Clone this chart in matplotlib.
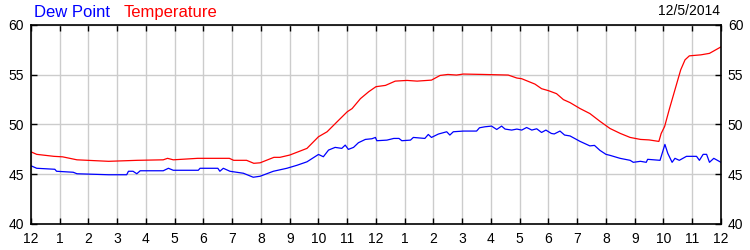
import numpy as np
import matplotlib.pyplot as plt

# hours since midnight, 12/5/2014
temp_hours = [0, 0.2, 0.8, 1.1, 1.6, 2.7, 3.7, 4.6, 4.75, 4.95, 5.8, 6.9, 7.05, 7.5,
              7.75, 7.97, 8.45, 8.66, 9.0, 9.36, 9.6, 10.0, 10.3, 10.65, 11.0, 11.17,
              11.46, 11.75, 12.0, 12.33, 12.67, 13.08, 13.43, 13.93, 14.23, 14.5,
              14.8, 15.04, 15.73, 16.6, 16.9, 17.07, 17.24, 17.53, 17.76, 18.0, 18.28,
              18.52, 18.75, 19.1, 19.44, 19.8, 20.14, 20.5, 20.84, 21.2, 21.5, 21.84,
              21.92, 22.04, 22.2, 22.4, 22.6, 22.75, 22.9, 23.3, 23.6, 24.0]
temperature = [47.25, 47.0, 46.8, 46.75, 46.45, 46.3, 46.4, 46.45, 46.6, 46.45, 46.6,
               46.6, 46.4, 46.4, 46.1, 46.15, 46.7, 46.7, 46.93, 47.33, 47.6, 48.77,
               49.27, 50.28, 51.28, 51.6, 52.6, 53.3, 53.8, 53.93, 54.36, 54.43, 54.36,
               54.46, 54.93, 55.03, 54.97, 55.07, 55.03, 54.97, 54.67, 54.6, 54.4,
               54.06, 53.6, 53.4, 53.1, 52.5, 52.2, 51.6, 51.1, 50.3, 49.6, 49.1,
               48.7, 48.5, 48.45, 48.3, 49.1, 49.8, 51.5, 53.5, 55.5, 56.5, 56.9, 57.0,
               57.15, 57.8]

dew_hours = [0, 0.2, 0.83, 0.89, 1.47, 1.6, 2.7, 3.33, 3.39, 3.55, 3.68, 3.8, 4.6,
             4.78, 4.95, 5.82, 5.88, 6.5, 6.57, 6.69, 6.92, 7.39, 7.73, 7.97, 8.43,
             8.9, 9.25, 9.6, 10.0, 10.17, 10.35, 10.58, 10.81, 10.93, 11.04, 11.22,
             11.39, 11.63, 11.86, 11.98, 12.03, 12.38, 12.62, 12.8, 12.9, 13.2, 13.3,
             13.7, 13.82, 13.93, 14.17, 14.46, 14.57, 14.69, 15.04, 15.5, 15.6,
             15.79, 16.02, 16.2, 16.37, 16.49, 16.72, 16.9, 17.07, 17.24, 17.42,
             17.59, 17.76, 17.91, 18.1, 18.2, 18.4, 18.56, 18.75, 19.1, 19.44, 19.6,
             19.79, 20.0, 20.14, 20.49, 20.84, 20.95, 21.2, 21.4, 21.45, 21.88,
             22.05, 22.15, 22.3, 22.4, 22.55, 22.8, 23.15, 23.25, 23.38, 23.5, 23.6,
             23.75, 24.0]
dew_point = [45.85, 45.6, 45.5, 45.3, 45.2, 45.05, 44.95, 44.95, 45.3, 45.3, 45.05,
             45.35, 45.35, 45.6, 45.4, 45.4, 45.6, 45.6, 45.3, 45.6, 45.3, 45.1, 44.7,
             44.8, 45.3, 45.6, 45.9, 46.25, 46.99, 46.76, 47.43, 47.7, 47.6, 47.93,
             47.5, 47.7, 48.17, 48.5, 48.57, 48.7, 48.37, 48.43, 48.6, 48.6, 48.37,
             48.43, 48.7, 48.6, 49.0, 48.7, 49.04, 49.27, 48.94, 49.27, 49.34, 49.34,
             49.67, 49.77, 49.84, 49.5, 49.84, 49.54, 49.44, 49.54, 49.44, 49.7,
             49.44, 49.57, 49.2, 49.44, 49.1, 49.05, 49.34, 48.94, 48.85, 48.3, 47.85,
             47.9, 47.4, 47.0, 46.9, 46.6, 46.4, 46.2, 46.3, 46.2, 46.5, 46.4, 48.0,
             47.1, 46.2, 46.6, 46.4, 46.8, 46.8, 46.4, 47.0, 47.0, 46.2, 46.6, 46.2]

tick_labels = ['12', '1', '2', '3', '4', '5', '6', '7', '8', '9', '10', '11',
               '12', '1', '2', '3', '4', '5', '6', '7', '8', '9', '10', '11', '12']
y_ticks = [40, 45, 50, 55, 60]

plt.rcParams['font.family'] = ['Liberation Sans', 'DejaVu Sans']

fig = plt.figure(figsize=(7.5, 2.5), dpi=100)
ax = fig.add_axes([0.0413, 0.104, 0.92, 0.796])

ax.plot(dew_hours, dew_point, color='#0000ff', lw=0.9)
ax.plot(temp_hours, temperature, color='#ff0000', lw=0.9)

ax.set_xlim(0, 24)
ax.set_ylim(40, 60)
ax.set_xticks(np.arange(25))
ax.set_xticklabels(tick_labels)
ax.set_yticks(y_ticks)
ax.grid(True, color='#cccccc', lw=1)
ax.set_axisbelow(True)

ax.tick_params(axis='x', direction='in', length=4, width=1, top=True,
               labelsize=10, pad=6)
ax.tick_params(axis='y', direction='in', length=4, width=1, right=True,
               labelright=True, labelsize=10, pad=5)
for s in ax.spines.values():
    s.set_linewidth(1.2)

fig.text(0.045, 0.95, 'Dew Point', color='#0000ff', fontsize=12, va='center')
fig.text(0.165, 0.95, 'Temperature', color='#ff0000', fontsize=12, va='center')
fig.text(0.96, 0.955, '12/5/2014', color='black', fontsize=10, va='center', ha='right')

fig.savefig('out.png', dpi=100)
